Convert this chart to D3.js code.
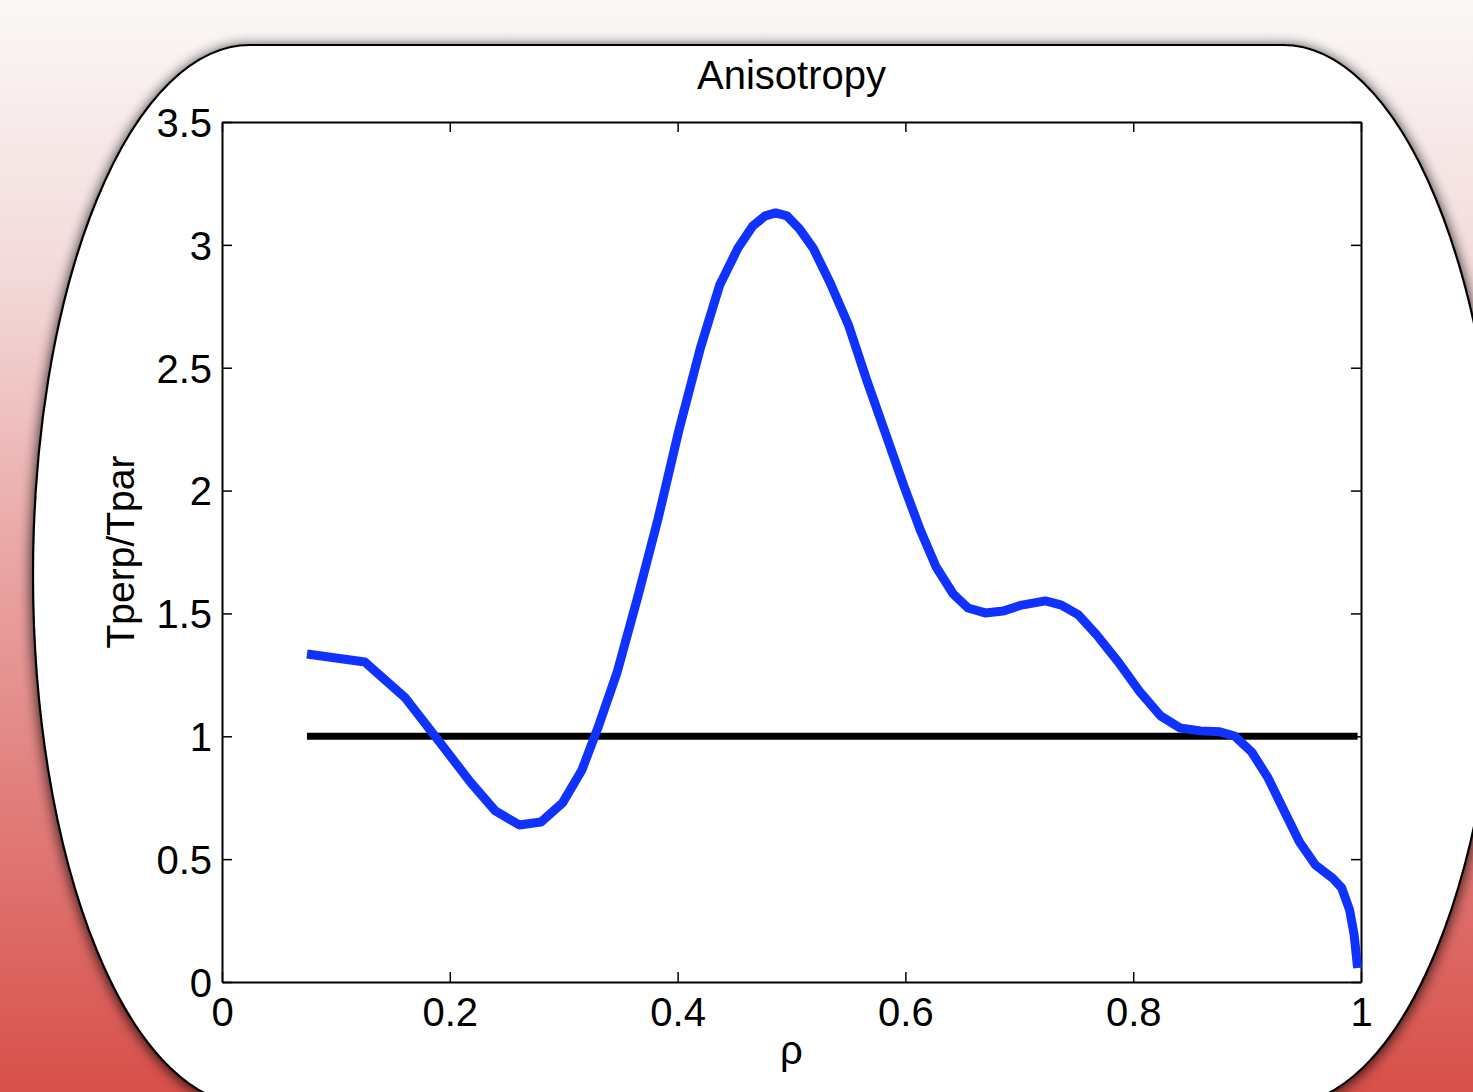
<!DOCTYPE html>
<html>
<head>
<meta charset="utf-8">
<script src="https://cdn.jsdelivr.net/npm/d3@7"></script>
<style>
  body { margin: 0; padding: 0; overflow: hidden; }
  svg text { font-family: 'Liberation Sans', Arial, Helvetica, sans-serif; fill: #000; }
</style>
</head>
<body>
<svg id="chart" width="1473" height="1092"></svg>
<script>
// data
const rho = [0.0746, 0.1255, 0.161, 0.191, 0.218, 0.240, 0.261, 0.280, 0.299, 0.316,
  0.330, 0.347, 0.365, 0.383, 0.401, 0.420, 0.437, 0.453, 0.466, 0.477,
  0.486, 0.496, 0.507, 0.519, 0.534, 0.550, 0.566, 0.583, 0.599, 0.613,
  0.627, 0.642, 0.655, 0.670, 0.686, 0.702, 0.723, 0.737, 0.752, 0.768,
  0.787, 0.806, 0.824, 0.841, 0.859, 0.876, 0.889, 0.904, 0.918, 0.933,
  0.946, 0.960, 0.975, 0.983, 0.990, 0.994, 0.997];
const anisotropy = [1.335, 1.302, 1.156, 0.977, 0.814, 0.696, 0.639, 0.651, 0.729, 0.863,
  1.034, 1.262, 1.567, 1.888, 2.243, 2.580, 2.837, 2.987, 3.077, 3.118,
  3.130, 3.118, 3.065, 2.987, 2.845, 2.674, 2.450, 2.226, 2.015, 1.840,
  1.689, 1.579, 1.522, 1.502, 1.510, 1.534, 1.551, 1.534, 1.494, 1.412,
  1.302, 1.180, 1.083, 1.034, 1.022, 1.018, 1.001, 0.936, 0.834, 0.692,
  0.570, 0.476, 0.423, 0.383, 0.293, 0.191, 0.057];
const refRho = [0.0746, 0.997];
const refVal = [1, 1];
const xTicks = [0, 0.2, 0.4, 0.6, 0.8, 1];
const xTickLabels = ['0', '0.2', '0.4', '0.6', '0.8', '1'];
const yTicks = [0, 0.5, 1, 1.5, 2, 2.5, 3, 3.5];
const yTickLabels = ['0', '0.5', '1', '1.5', '2', '2.5', '3', '3.5'];

const svg = d3.select('svg#chart');
const W = +svg.attr('width'), H = +svg.attr('height');
const margin = { top: 122, right: 112, bottom: 110, left: 222 };
const width = W - margin.left - margin.right;   // 1139
const height = H - margin.top - margin.bottom;  // 860

const defs = svg.append('defs');
const grad = defs.append('linearGradient').attr('id', 'bg')
  .attr('x1', 0).attr('y1', 0).attr('x2', 0).attr('y2', 1);
[[0, '#fbf8f7'], [0.25, '#f3dada'], [0.5, '#eaa8a7'], [0.75, '#e07b78'], [1, '#d8504a']]
  .forEach(s => grad.append('stop').attr('offset', s[0]).attr('stop-color', s[1]));
const shadow = defs.append('filter').attr('id', 'shadow')
  .attr('x', -0.1).attr('y', -0.1).attr('width', 1.2).attr('height', 1.2);
shadow.append('feGaussianBlur').attr('in', 'SourceAlpha').attr('stdDeviation', 7).attr('result', 'b');
shadow.append('feOffset').attr('in', 'b').attr('dx', 0).attr('dy', 2).attr('result', 'o');
shadow.append('feComponentTransfer').attr('in', 'o').attr('result', 's')
  .append('feFuncA').attr('type', 'linear').attr('slope', 0.85);
const merge = shadow.append('feMerge');
merge.append('feMergeNode').attr('in', 's');
merge.append('feMergeNode').attr('in', 'SourceGraphic');

svg.append('rect').attr('width', W).attr('height', H).attr('fill', 'url(#bg)');

// rounded white panel
svg.append('rect')
  .attr('x', 33).attr('y', 45)
  .attr('width', 1467).attr('height', 1060)
  .attr('rx', 217).attr('ry', 530)
  .attr('fill', '#fff')
  .attr('stroke', '#000')
  .attr('stroke-width', 2.2)
  .attr('filter', 'url(#shadow)');

const g = svg.append('g').attr('transform', `translate(${margin.left},${margin.top})`);
const x = d3.scaleLinear().domain([0, 1]).range([0, width]);
const y = d3.scaleLinear().domain([0, 3.5]).range([height, 0]);

// axes with inward ticks on all four sides
const fmtX = (d, i) => xTickLabels[i];
const fmtY = (d, i) => yTickLabels[i];
const axB = g.append('g').attr('transform', `translate(0,${height})`)
  .call(d3.axisBottom(x).tickValues(xTicks).tickFormat(fmtX).tickSizeInner(-10).tickSizeOuter(0).tickPadding(17));
const axT = g.append('g')
  .call(d3.axisTop(x).tickValues(xTicks).tickFormat('').tickSizeInner(-10).tickSizeOuter(0));
const axL = g.append('g')
  .call(d3.axisLeft(y).tickValues(yTicks).tickFormat(fmtY).tickSizeInner(-10).tickSizeOuter(0).tickPadding(10));
const axR = g.append('g').attr('transform', `translate(${width},0)`)
  .call(d3.axisRight(y).tickValues(yTicks).tickFormat('').tickSizeInner(-10).tickSizeOuter(0));
[axB, axT, axL, axR].forEach(a => {
  a.select('.domain').attr('stroke', '#000').attr('stroke-width', 2);
  a.selectAll('.tick line').attr('stroke', '#000').attr('stroke-width', 1.5);
  a.selectAll('.tick text').attr('font-size', 40).attr('font-family', null).attr('fill', '#000');
});
axB.selectAll('.tick text').attr('dy', '0.68em');
axL.selectAll('.tick text').attr('dy', '0.36em');

// curves
g.append('path')
  .datum(refRho.map((r, i) => [r, refVal[i]]))
  .attr('d', d3.line().x(d => x(d[0])).y(d => y(d[1])))
  .attr('fill', 'none')
  .attr('stroke', '#000')
  .attr('stroke-width', 7);
g.append('path')
  .datum(rho.map((r, i) => [r, anisotropy[i]]))
  .attr('d', d3.line().x(d => x(d[0])).y(d => y(d[1])))
  .attr('fill', 'none')
  .attr('stroke', '#0f32ff')
  .attr('stroke-width', 9)
  .attr('stroke-linejoin', 'round');

// labels
svg.append('text').attr('x', margin.left + width / 2).attr('y', 89)
  .attr('text-anchor', 'middle').attr('font-size', 40).text('Anisotropy');
svg.append('text').attr('transform', `translate(134,${margin.top + height / 2}) rotate(-90)`)
  .attr('text-anchor', 'middle').attr('font-size', 39).text('Tperp/Tpar');
svg.append('text').attr('x', margin.left + width / 2).attr('y', 1064)
  .attr('text-anchor', 'middle').attr('font-size', 40).text('ρ');
</script>
</body>
</html>
